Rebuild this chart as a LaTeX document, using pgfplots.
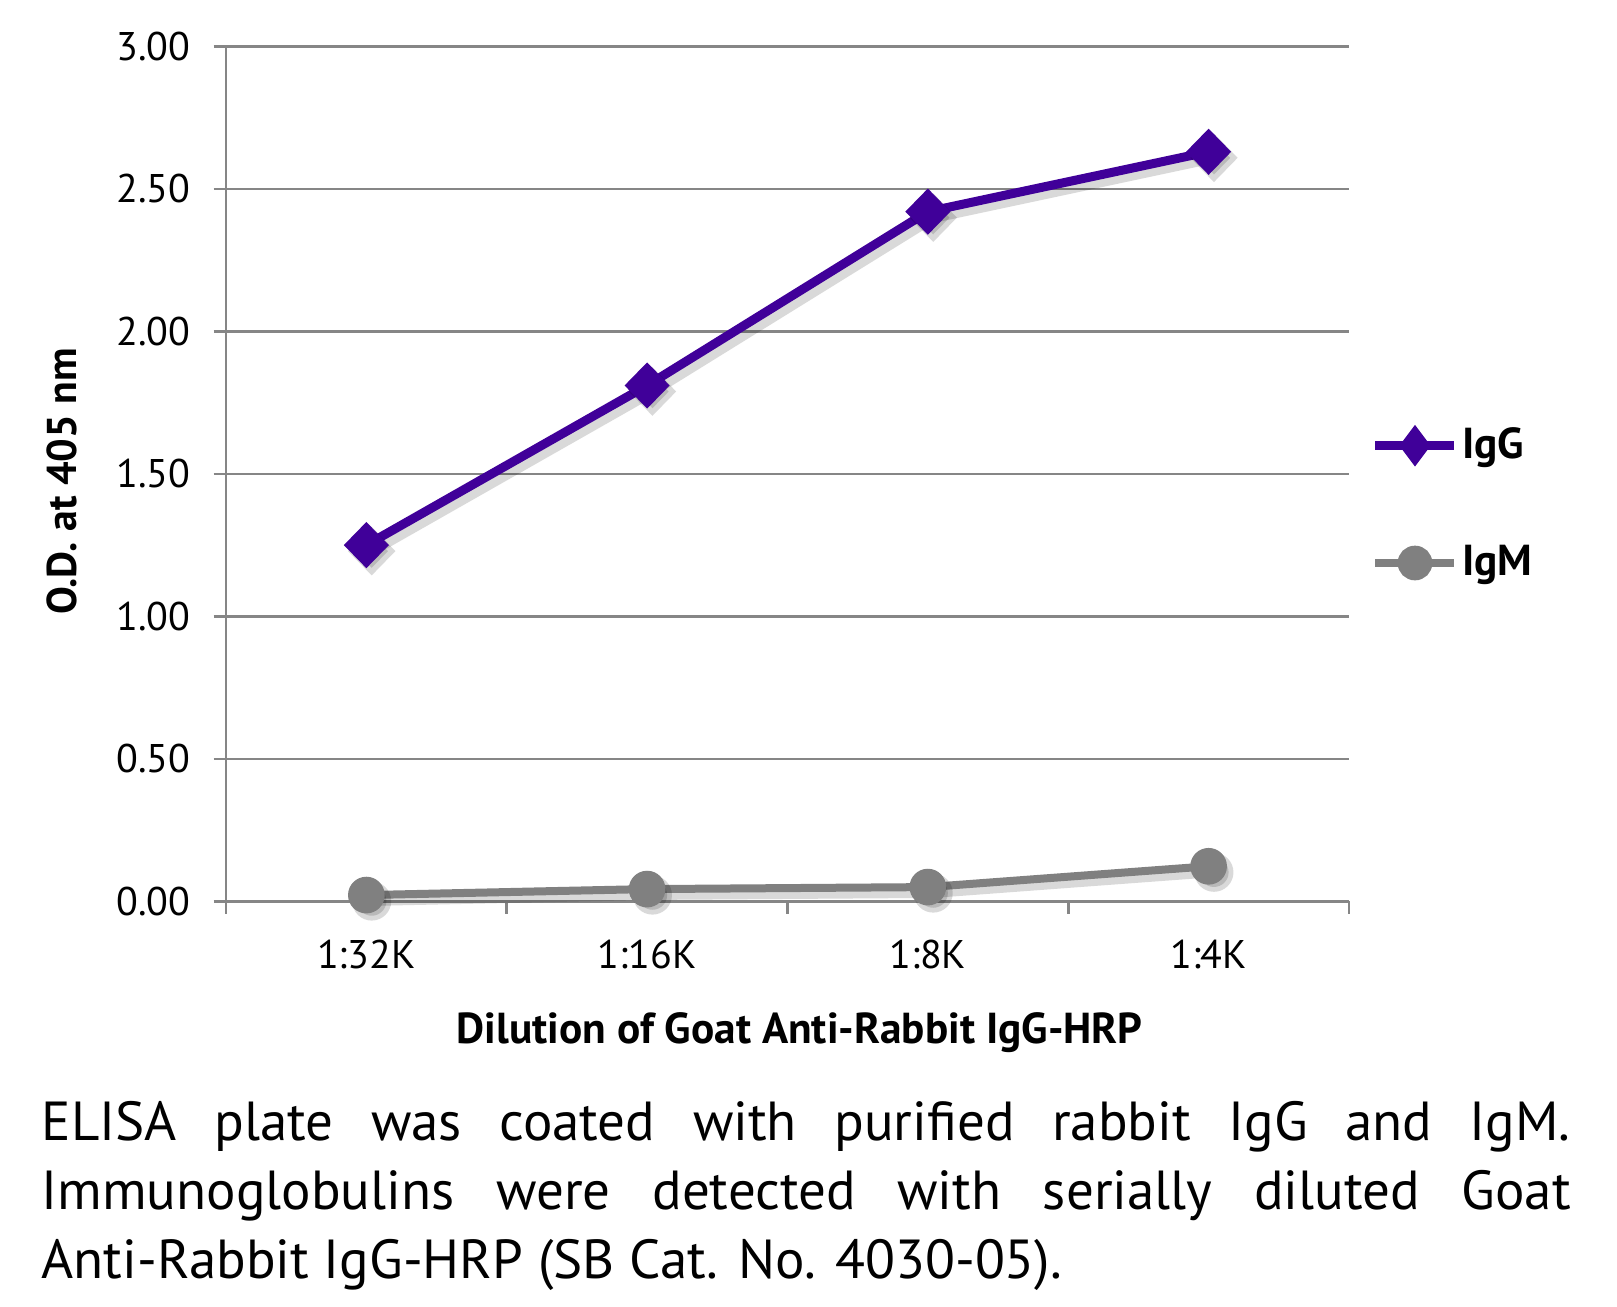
\documentclass[border=0pt]{standalone}
\usepackage{pgfplots}
\pgfplotsset{compat=1.18}
\usepackage{fontspec}
\setmainfont{PT Sans}
\definecolor{iggc}{RGB}{64,0,153}
\definecolor{igmc}{RGB}{128,128,128}
\definecolor{gridc}{RGB}{134,134,134}
\begin{document}
\begin{tikzpicture}
\begin{axis}[
  at={(0,0)}, anchor=south west,
  scale only axis, width=336.9pt, height=256.5pt,
  xmin=-0.5, xmax=3.5, ymin=0, ymax=3,
  axis x line*=bottom, axis y line*=left,
  axis line style={gridc, line width=0.8pt},
  ytick={0,0.5,1,1.5,2,2.5,3},
  yticklabels={0.00,0.50,1.00,1.50,2.00,2.50,3.00},
  ymajorgrids, grid style={gridc, line width=0.8pt},
  tick align=outside, major tick length=3.7pt, minor tick length=3.7pt,
  tick style={gridc, line width=0.8pt},
  xtick={0,1,2,3}, xticklabels={1:32K,1:16K,1:8K,1:4K},
  major x tick style={draw=none},
  minor xtick={-0.5,0.5,1.5,2.5,3.5},
  minor x tick style={gridc, line width=0.8pt},
  tick label style={font=\fontsize{12}{14}\selectfont},
  yticklabel style={xshift=-3.4pt},
  xticklabel style={yshift=-4.5pt},
  xlabel={Dilution of Goat Anti-Rabbit IgG-HRP},
  xlabel style={at={(axis description cs:0.511,-0.154)}, anchor=center, font=\bfseries\fontsize{13}{15}\selectfont},
  ylabel={O.D. at 405 nm},
  ylabel style={at={(axis description cs:-0.146,0.491)}, anchor=center, font=\bfseries\fontsize{12.5}{15}\selectfont},
  legend style={draw=none, fill=none, at={(axis description cs:1.019,0.4645)}, anchor=west,
    font=\bfseries\fontsize{13}{15}\selectfont, row sep=22.5pt, inner sep=0pt,
    nodes={inner sep=1pt}, cells={anchor=west}},
  legend image code/.code={\draw[mark repeat=2,mark phase=2,#1] plot coordinates {(0pt,0pt) (11.85pt,0pt) (23.7pt,0pt)};},
  legend image post style={mark size=4pt, mark options={solid}},
  clip=false,
]
% drop shadows
\addplot[black, opacity=0.15, line width=3.2pt, xshift=1.6pt, yshift=-1.8pt, mark=diamond*, mark size=5pt, mark options={xscale=1.3}, forget plot]
  coordinates {(0,1.25) (1,1.81) (2,2.42) (3,2.63)};
\addplot[black, opacity=0.15, line width=2.9pt, xshift=1.6pt, yshift=-1.8pt, mark=*, mark size=4.4pt, forget plot]
  coordinates {(0,0.022) (1,0.043) (2,0.050) (3,0.123)};
% series
\addplot[iggc, line width=2.7pt, mark=diamond*, mark size=5pt, mark options={solid, xscale=1.3}]
  coordinates {(0,1.25) (1,1.81) (2,2.42) (3,2.63)};
\addlegendentry{IgG}
\addplot[igmc, line width=2.4pt, mark=*, mark size=4.3pt, mark options={solid}]
  coordinates {(0,0.022) (1,0.043) (2,0.050) (3,0.123)};
\addlegendentry{IgM}
\end{axis}
\node[anchor=north west, text width=458.7pt, align=justify, inner sep=0pt,
  font=\fontsize{16.5}{20.7}\selectfont] at (-55.5pt,-59.8pt)
  {ELISA plate was coated with purified rabbit IgG and IgM.\linebreak Immunoglobulins were detected with serially diluted Goat\linebreak Anti-Rabbit IgG-HRP (SB Cat. No. 4030-05).};
\pgfresetboundingbox
\path (-67.8pt,-121.4pt) rectangle (417.3pt,270.4pt);
\end{tikzpicture}
\end{document}
